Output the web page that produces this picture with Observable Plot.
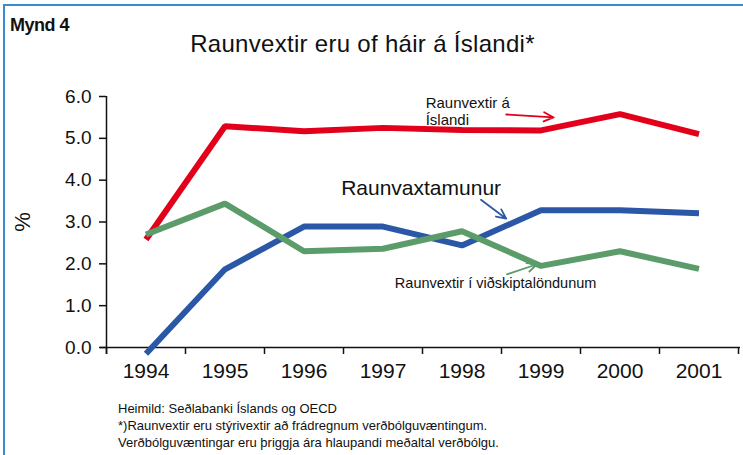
<!DOCTYPE html>
<html>
<head>
<meta charset="utf-8">
<script src="https://cdn.jsdelivr.net/npm/d3@7"></script>
<script src="https://cdn.jsdelivr.net/npm/@observablehq/plot@0.6"></script>
<style>
  html, body { margin: 0; padding: 0; background: #fff; }
  body { width: 743px; height: 455px; overflow: hidden; position: relative; font-family: "Liberation Sans", Arial, sans-serif; color: #111; }
  #frame { position: absolute; left: 3px; top: 4px; width: 760px; height: 470px; border-top: 2px solid #3b8bd0; border-left: 2px solid #3b8bd0; box-sizing: border-box; }
  #fig { position: absolute; left: 10px; top: 15px; font-family: "Liberation Sans Narrow", "Liberation Sans", sans-serif; font-size: 18px; font-weight: 600; letter-spacing: -0.5px; }
  #title { position: absolute; left: 0; width: 725px; top: 30px; text-align: center; font-size: 24px; letter-spacing: 0.3px; }
  #chart { position: absolute; left: 0; top: 70px; }
  #notes { position: absolute; left: 118px; top: 400px; font-size: 13px; line-height: 17px; }
</style>
</head>
<body>
<div id="frame"></div>
<div id="fig">Mynd 4</div>
<div id="title">Raunvextir eru of háir á Íslandi*</div>
<div id="chart"></div>
<div id="notes">Heimild: Seðlabanki Íslands og OECD<br>*)Raunvextir eru stýrivextir að frádregnum verðbólguvæntingum.<br>Verðbólguvæntingar eru þriggja ára hlaupandi meðaltal verðbólgu.</div>
<script>
const years = [1994, 1995, 1996, 1997, 1998, 1999, 2000, 2001];
const seriesNames = ["Raunvextir á Íslandi", "Raunvaxtamunur", "Raunvextir í viðskiptalöndunum"];
const iceland = [2.58, 5.29, 5.17, 5.25, 5.20, 5.19, 5.58, 5.10];
const spread = [-0.15, 1.87, 2.89, 2.89, 2.44, 3.28, 3.28, 3.21];
const partners = [2.70, 3.44, 2.30, 2.36, 2.78, 1.95, 2.30, 1.88];
const yTicks = [0, 1, 2, 3, 4, 5, 6];

// annotations (in data units)
const annoLabels = ["Raunvextir á\nÍslandi", "Raunvaxtamunur", "Raunvextir í viðskiptalöndunum"];
const annoX = [1997.54, 1996.47, 1997.15];
const annoY = [5.65, 3.81, 1.53];
const arrowX1 = [1998.56, 1998.24, 1998.57];
const arrowY1 = [5.57, 3.53, 1.75];
const arrowX2 = [1999.16, 1998.56, 1998.95];
const arrowY2 = [5.50, 3.08, 1.99];

const colors = ["#e2001a", "#2b58a6", "#5c9c6b"];
const allSeries = [iceland, spread, partners];
const drawOrder = [0, 1, 2];

const rows = [];
drawOrder.forEach(s => years.forEach((yr, i) => rows.push({year: yr, value: allSeries[s][i], series: seriesNames[s]})));

const bounds = years.map(y => y - 0.5).concat([years[years.length - 1] + 0.5]);
const annos = annoLabels.map((l, i) => ({label: l, x: annoX[i], y: annoY[i], x1: arrowX1[i], y1: arrowY1[i], x2: arrowX2[i], y2: arrowY2[i], c: seriesNames[i]}));

const plot = Plot.plot({
  width: 743,
  height: 320,
  marginLeft: 106,
  marginRight: 5,
  marginTop: 26,
  marginBottom: 43,
  style: {fontFamily: "Liberation Sans, Arial, sans-serif", color: "#111", background: "transparent"},
  x: {type: "linear", domain: [bounds[0], bounds[bounds.length - 1]]},
  y: {domain: [0, 6]},
  color: {domain: seriesNames, range: colors},
  marks: [
    Plot.axisY({ticks: yTicks, tickFormat: d3.format(".1f"), tickSize: 7, tickPadding: 8, fontSize: 19, stroke: "#111", strokeWidth: 1.5, label: null}),
    Plot.axisY({ticks: [], label: "%", labelAnchor: "center", labelArrow: "none", labelOffset: 92, fontSize: 22}),
    Plot.axisX({ticks: bounds, tickFormat: () => "", tickSize: 7, strokeWidth: 1.5, stroke: "#111"}),
    Plot.axisX({ticks: years, tickFormat: d => String(d), tickSize: 0, tickPadding: 16, fontSize: 21, label: null}),
    Plot.ruleY([0], {stroke: "#111", strokeWidth: 1.5, insetLeft: -6, insetRight: -2}),
    Plot.ruleX([bounds[0]], {stroke: "#111", strokeWidth: 1.5, insetBottom: -7}),
    Plot.line(rows, {x: "year", y: "value", z: "series", stroke: "series", strokeWidth: 6, strokeLinejoin: "miter", strokeLinecap: "butt"}),
    Plot.arrow(annos, {x1: "x1", y1: "y1", x2: "x2", y2: "y2", stroke: "c", strokeWidth: 1.8, headLength: 9, headAngle: 50, bend: 0}),
    Plot.text([annos[0]], {x: "x", y: "y", text: "label", textAnchor: "start", fontSize: 15, lineHeight: 1.15, fill: "#111"}),
    Plot.text([annos[1]], {x: "x", y: "y", text: "label", textAnchor: "start", fontSize: 21, fill: "#111"}),
    Plot.text([annos[2]], {x: "x", y: "y", text: "label", textAnchor: "start", fontSize: 14.5, fill: "#111"})
  ]
});
document.getElementById("chart").appendChild(plot);
</script>
</body>
</html>
